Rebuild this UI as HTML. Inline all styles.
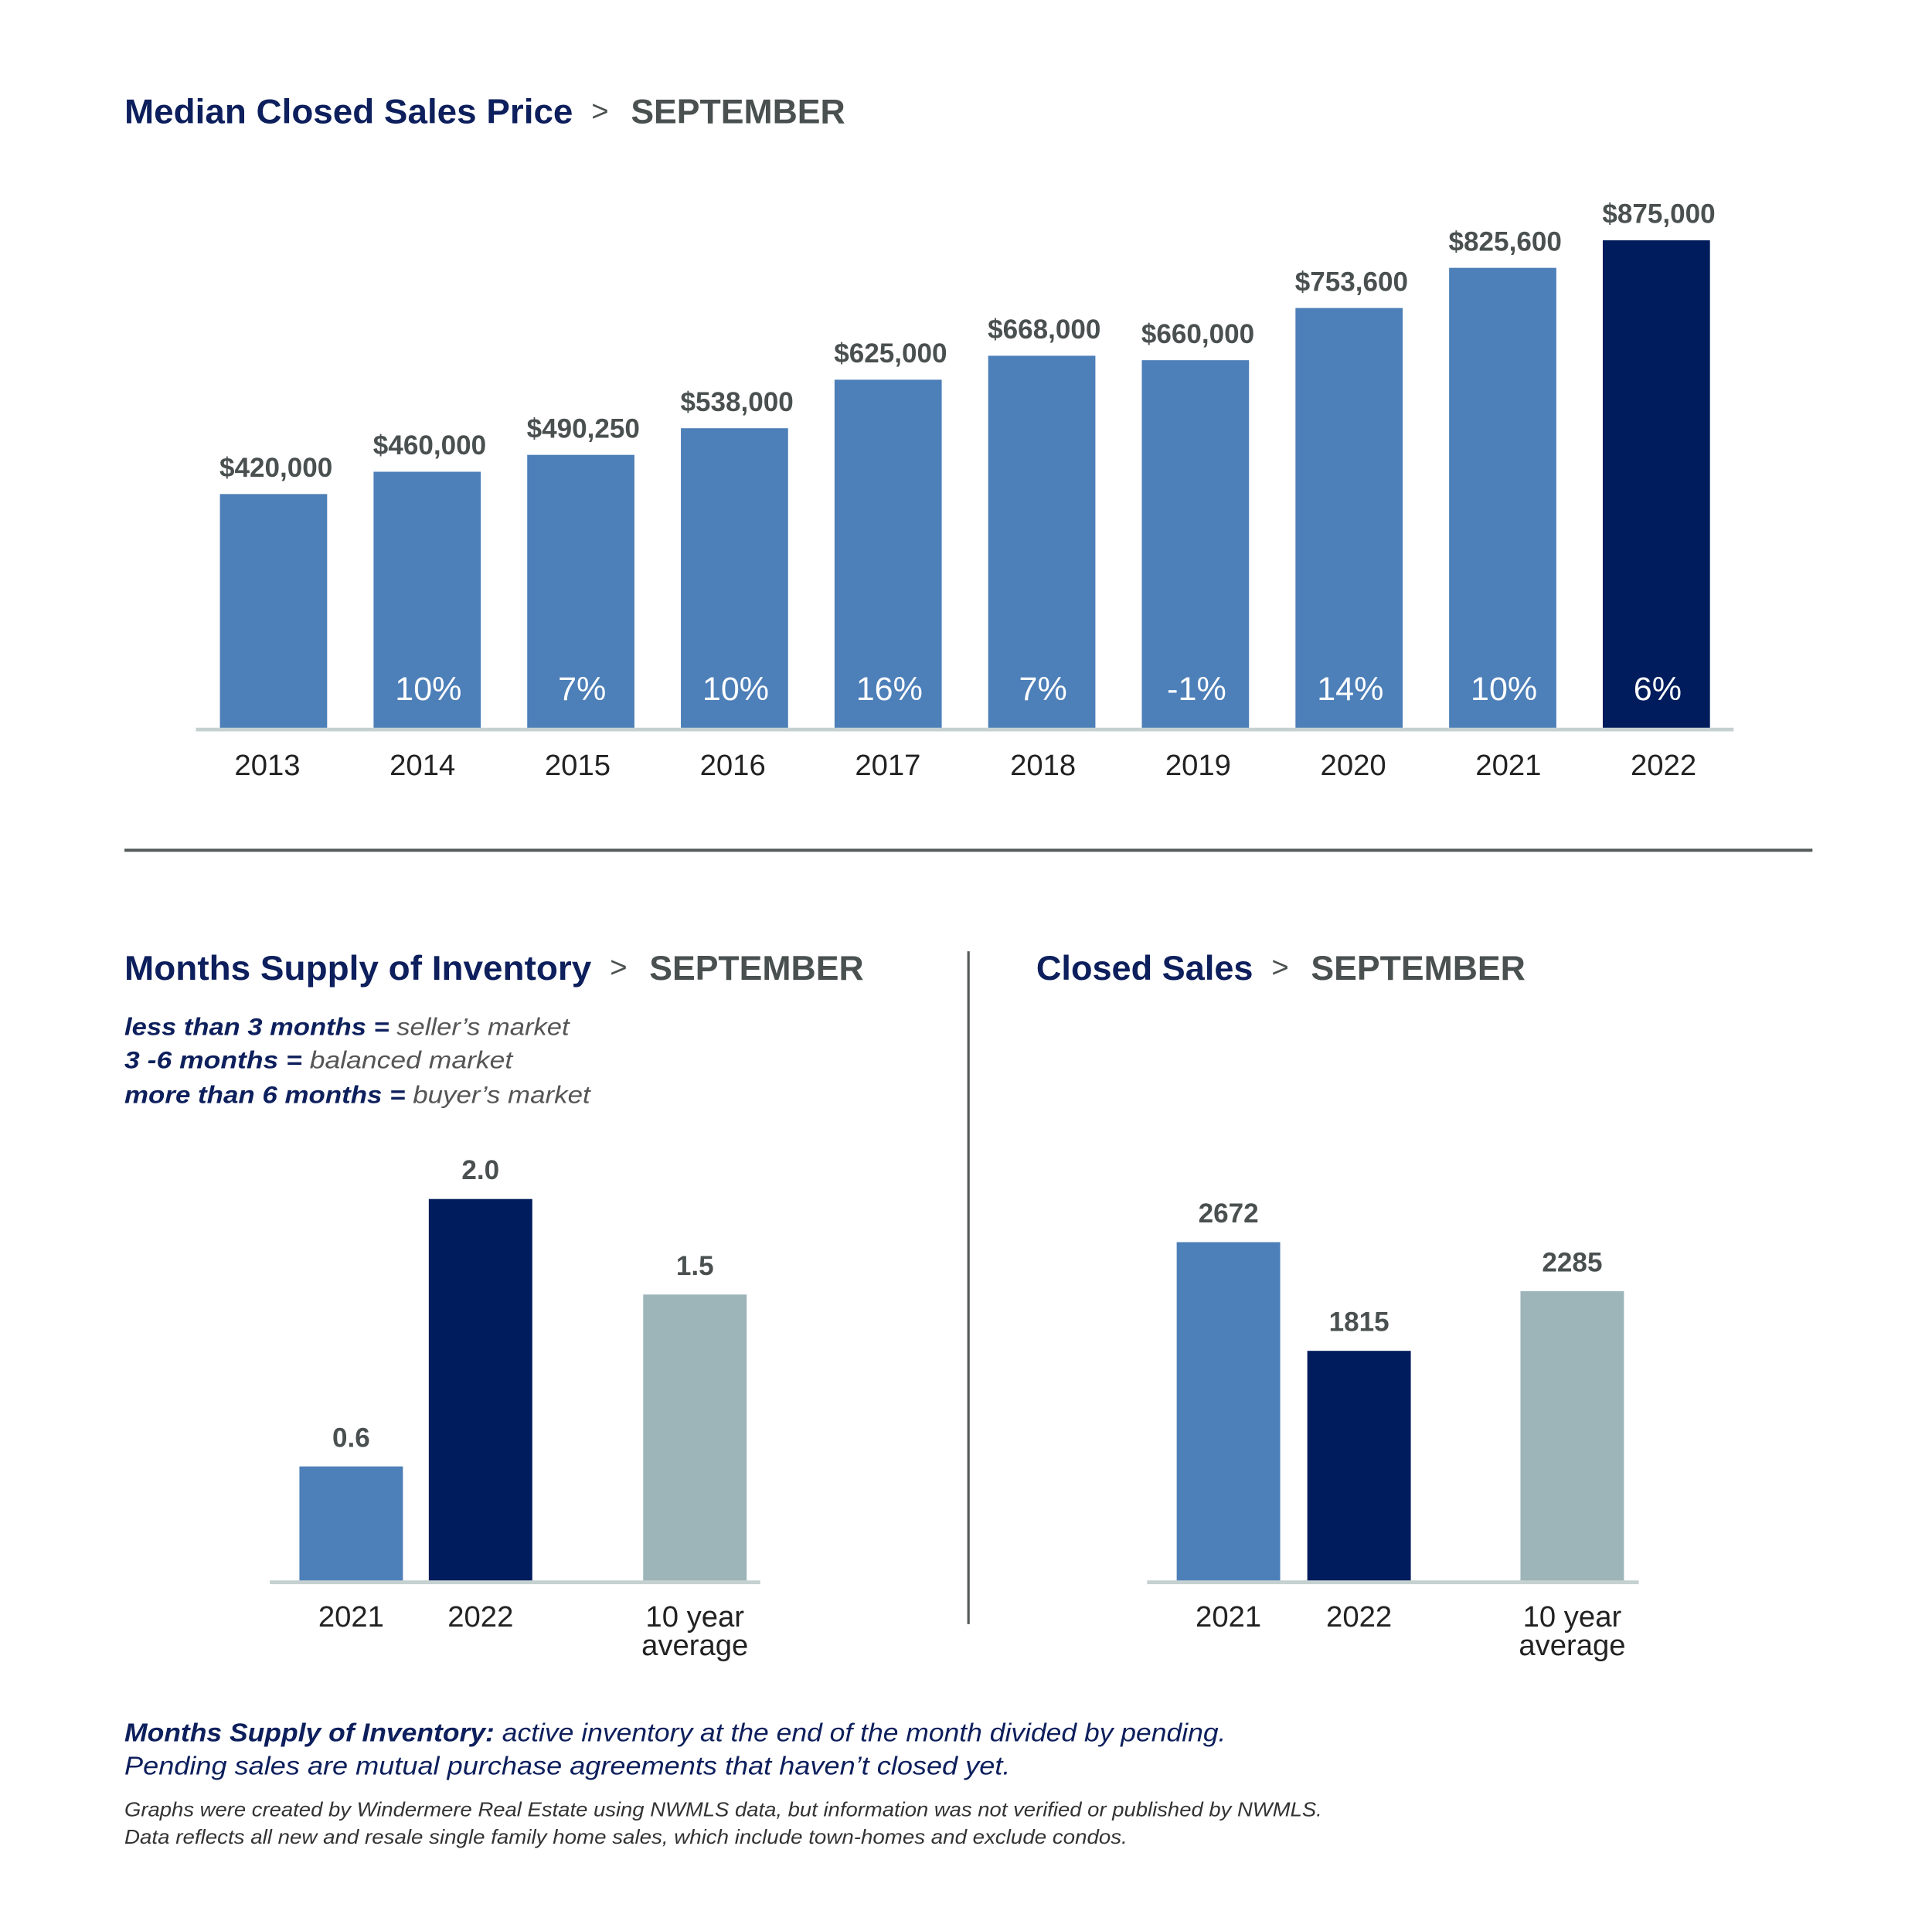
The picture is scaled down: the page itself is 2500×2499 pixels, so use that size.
<!DOCTYPE html>
<html><head><meta charset="utf-8"><style>
html,body{margin:0;padding:0;background:#fff;}
svg{display:block;}
text{font-family:"Liberation Sans",sans-serif;}
</style></head><body>
<svg id="root" width="2500" height="2499" viewBox="0 0 1568 1567" preserveAspectRatio="none" xmlns="http://www.w3.org/2000/svg">
<rect width="1568" height="1567" fill="#fff"/>
<g>
<text x="101" y="100" font-size="28" font-weight="bold" fill="#0d1f5c" textLength="364" lengthAdjust="spacingAndGlyphs">Median Closed Sales Price</text>
<text x="480" y="98" font-size="24" fill="#4a5050">&gt;</text>
<text x="512" y="100" font-size="28" font-weight="bold" fill="#4a5050" textLength="174" lengthAdjust="spacingAndGlyphs">SEPTEMBER</text>
</g>
<g id="priceChart"></g>
<line x1="101" y1="690" x2="1471" y2="690" stroke="#555b5b" stroke-width="2.5"/>
<g>
<text x="101" y="795" font-size="28" font-weight="bold" fill="#0d1f5c" textLength="379" lengthAdjust="spacingAndGlyphs">Months Supply of Inventory</text>
<text x="495" y="793" font-size="24" fill="#4a5050">&gt;</text>
<text x="527" y="795" font-size="28" font-weight="bold" fill="#4a5050" textLength="174" lengthAdjust="spacingAndGlyphs">SEPTEMBER</text>
</g>
<g font-size="20" font-style="italic">
<text x="101" y="840" textLength="361" lengthAdjust="spacingAndGlyphs"><tspan fill="#0d1f5c" font-weight="bold">less than 3 months =</tspan><tspan fill="#555"> seller’s market</tspan></text>
<text x="101" y="867" textLength="315" lengthAdjust="spacingAndGlyphs"><tspan fill="#0d1f5c" font-weight="bold">3 -6 months =</tspan><tspan fill="#555"> balanced market</tspan></text>
<text x="101" y="895" textLength="378" lengthAdjust="spacingAndGlyphs"><tspan fill="#0d1f5c" font-weight="bold">more than 6 months =</tspan><tspan fill="#555"> buyer’s market</tspan></text>
</g>
<line x1="786" y1="772" x2="786" y2="1318" stroke="#555b5b" stroke-width="2"/>
<g>
<text x="841" y="795" font-size="28" font-weight="bold" fill="#0d1f5c" textLength="176" lengthAdjust="spacingAndGlyphs">Closed Sales</text>
<text x="1032" y="793" font-size="24" fill="#4a5050">&gt;</text>
<text x="1064" y="795" font-size="28" font-weight="bold" fill="#4a5050" textLength="174" lengthAdjust="spacingAndGlyphs">SEPTEMBER</text>
</g>
<g id="invChart"></g>
<g id="salesChart"></g>
<g font-style="italic">
<text x="101" y="1413" font-size="21" fill="#0d1f5c" textLength="894" lengthAdjust="spacingAndGlyphs"><tspan font-weight="bold">Months Supply of Inventory:</tspan> active inventory at the end of the month divided by pending.</text>
<text x="101" y="1440" font-size="21" fill="#0d1f5c" textLength="719" lengthAdjust="spacingAndGlyphs">Pending sales are mutual purchase agreements that haven’t closed yet.</text>
<text x="101" y="1474" font-size="16" fill="#333" textLength="972" lengthAdjust="spacingAndGlyphs">Graphs were created by Windermere Real Estate using NWMLS data, but information was not verified or published by NWMLS.</text>
<text x="101" y="1496" font-size="16" fill="#333" textLength="814" lengthAdjust="spacingAndGlyphs">Data reflects all new and resale single family home sales, which include town-homes and exclude condos.</text>
</g>
</svg>
<script>
const priceYears = ["2013","2014","2015","2016","2017","2018","2019","2020","2021","2022"];
const priceValues = [420000,460000,490250,538000,625000,668000,660000,753600,825600,875000];
const priceChanges = ["","10%","7%","10%","16%","7%","-1%","14%","10%","6%"];
const invCategories = ["2021","2022","10 year average"];
const invValues = [0.6,2.0,1.5];
const invLabels = ["0.6","2.0","1.5"];
const salesCategories = ["2021","2022","10 year average"];
const salesValues = [2672,1815,2285];
const salesLabels = ["2672","1815","2285"];

const NS="http://www.w3.org/2000/svg";
const LIGHT="#4d7fb8", DARK="#001c5c", GRAY="#9db5b8";
function mk(tag, attrs, parent){const e=document.createElementNS(NS,tag);for(const k in attrs)e.setAttribute(k,attrs[k]);parent.appendChild(e);return e;}

(function(){
  const g=document.getElementById('priceChart');
  const base=591, x0=222, step=124.7, bw=87;
  const yScale=v=>v*(396/875000);
  const xPos=i=>x0+i*step;
  priceValues.forEach((v,i)=>{
    const h=yScale(v), cx=xPos(i);
    const r=mk('rect',{x:cx-bw/2,y:base-h,width:bw,height:h,fill:i===priceValues.length-1?DARK:LIGHT},g);
    
    
    const t=mk('text',{x:cx+2,y:base-h-14,'font-size':22,'font-weight':'bold',fill:'#4a5050','text-anchor':'middle'},g);
    t.textContent='$'+v.toLocaleString('en-US');
    
    
    if(priceChanges[i]){
      const p=mk('text',{x:cx+1,y:568,'font-size':27,fill:'#fff','text-anchor':'middle'},g);
      p.textContent=priceChanges[i];
      
      
    }
    const y=mk('text',{x:cx-5+i*1.2,y:629,'font-size':24,fill:'#222','text-anchor':'middle'},g);
    y.textContent=priceYears[i];
    
    
  });
  const l=mk('line',{x1:159,y1:base+1,x2:1407,y2:base+1,stroke:'#c5d1d0','stroke-width':3},g);
  
  
})();

function smallChart(id, cats, vals, labels, xs, scale, lineX1, lineX2){
  const g=document.getElementById(id);
  const base=1283, bw=84, colors=[LIGHT,DARK,GRAY];
  vals.forEach((v,i)=>{
    const h=v*scale, cx=xs[i];
    const r=mk('rect',{x:cx-bw/2,y:base-h,width:bw,height:h,fill:colors[i]},g);
    
    
    const t=mk('text',{x:cx,y:base-h-16,'font-size':22,'font-weight':'bold',fill:'#4a5050','text-anchor':'middle'},g);
    t.textContent=labels[i];
    
    
    const parts=cats[i]==="10 year average"?["10 year","average"]:[cats[i]];
    parts.forEach((s,j)=>{
      const c=mk('text',{x:cx,y:1320+j*23,'font-size':24,fill:'#222','text-anchor':'middle'},g);
      c.textContent=s;
      
      
    });
  });
  const l=mk('line',{x1:lineX1,y1:base+1,x2:lineX2,y2:base+1,stroke:'#c5d1d0','stroke-width':3},g);
  
  
}
smallChart('invChart',invCategories,invValues,invLabels,[285,390,564],155,219,617);
smallChart('salesChart',salesCategories,salesValues,salesLabels,[997,1103,1276],275/2672,931,1330);
</script>
</body></html>
